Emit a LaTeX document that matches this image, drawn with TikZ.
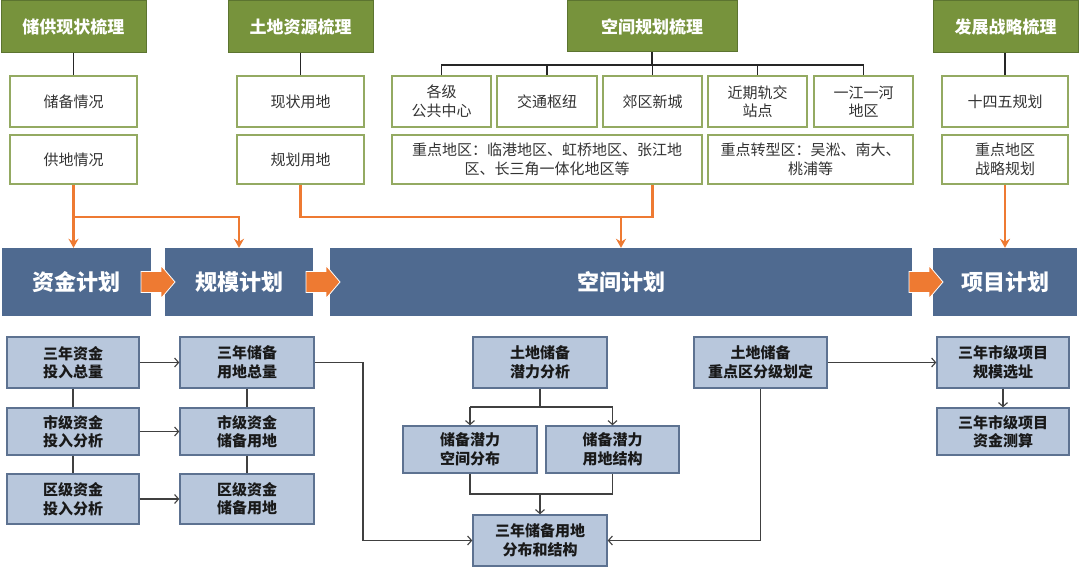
\documentclass[tikz,border=0pt]{standalone}
\usepackage{fontspec}
\setmainfont{Noto Sans CJK SC}
\usetikzlibrary{arrows.meta,calc}
\definecolor{hdrgreen}{HTML}{77933C}
\definecolor{hdrborder}{HTML}{5C7430}
\definecolor{gline}{HTML}{94AA62}
\definecolor{gtext}{HTML}{333333}
\definecolor{barblue}{HTML}{4F6A90}
\definecolor{lbfill}{HTML}{B8C7DC}
\definecolor{lbline}{HTML}{5D7291}
\definecolor{orng}{HTML}{EE7A32}
\definecolor{connc}{HTML}{404040}
\tikzset{
 sz/.style 2 args={minimum width=#1pt, minimum height=#2pt},
 hdr/.style={draw=hdrborder, line width=1pt, fill=hdrgreen, text=white, font=\fontsize{17}{20}\selectfont\bfseries, inner sep=0pt},
 gbox/.style={draw=gline, line width=1.4pt, fill=white, text=gtext, font=\fontsize{15}{18.5}\selectfont, align=center, inner sep=0pt},
 bar/.style={fill=barblue, text=white, font=\fontsize{22}{24}\selectfont\bfseries, inner sep=0pt},
 lbox/.style={draw=lbline, line width=1.4pt, fill=lbfill, text=black!90, font=\fontsize{15}{18.5}\selectfont\bfseries, align=center, inner sep=0pt},
 blk/.style={draw=black!85, line width=1.2pt},
 oline/.style={draw=orng, line width=2.5pt},
 oarr/.style={oline, -{Stealth[length=9pt,width=10pt]}},
 conn/.style={draw=connc, line width=1.1pt},
 carr/.style={conn, -{Straight Barb[length=4pt,width=9pt]}},
 blockarr/.style={fill=orng, draw=white, line width=0.8pt},
}
\newcommand\orangearrow[1]{\path[blockarr] (#1,271.5) -- (#1+20,271.5) -- (#1+20,265.5) -- (#1+34,282) -- (#1+20,298.5) -- (#1+20,292.5) -- (#1,292.5) -- cycle;}
\begin{document}
\begin{tikzpicture}[x=1pt,y=-1pt]
\useasboundingbox[fill=white] (0,0) rectangle (1080,569);
% headers
\node[hdr, sz={145}{52}] (h1) at (73.5,27) {储供现状梳理};
\node[hdr, sz={145}{52}] (h2) at (300.5,27) {土地资源梳理};
\node[hdr, sz={170}{51}] (h3) at (652,26.5) {空间规划梳理};
\node[hdr, sz={145}{52}] (h4) at (1005.5,27) {发展战略梳理};
% green boxes
\node[gbox, sz={127}{51}] (b1) at (73.5,101.5) {储备情况};
\node[gbox, sz={127}{49}] (b2) at (73.5,159.5) {供地情况};
\node[gbox, sz={127}{51}] (b3) at (300.5,101.5) {现状用地};
\node[gbox, sz={127}{49}] (b4) at (300.5,159.5) {规划用地};
\node[gbox, sz={99}{51}] (s1) at (441.5,101.5) {各级\\公共中心};
\node[gbox, sz={100}{51}] (s2) at (547,101.5) {交通枢纽};
\node[gbox, sz={99}{51}] (s3) at (652.5,101.5) {郊区新城};
\node[gbox, sz={99}{51}] (s4) at (757.5,101.5) {近期轨交\\站点};
\node[gbox, sz={99}{51}] (s5) at (863.5,101.5) {一江一河\\地区};
\node[gbox, sz={310}{49}] (s6) at (547,159.5) {重点地区：临港地区、虹桥地区、张江地\\区、长三角一体化地区等};
\node[gbox, sz={205}{49}] (s7) at (810.5,159.5) {重点转型区：吴淞、南大、\\桃浦等};
\node[gbox, sz={126}{51}] (d1) at (1005,101.5) {十四五规划};
\node[gbox, sz={126}{49}] (d2) at (1005,159.5) {重点地区\\战略规划};
% top black connectors
\coordinate (sy) at (0,65);
\draw[blk] (h1.south) -- (b1.north);
\draw[blk] (h2.south) -- (b3.north);
\draw[blk] (d1.north |- h4.south) -- (d1.north);
\draw[blk] (h3.south) -- (h3.south |- sy);
\draw[blk] (s1.north) -- (s1.north |- sy) -- (s5.north |- sy) -- (s5.north);
\draw[blk] (s2.north |- sy) -- (s2.north);
\draw[blk] (s3.north |- sy) -- (s3.north);
\draw[blk] (s4.north |- sy) -- (s4.north);
% bars
\node[bar, sz={149}{68}] (p1) at (76.5,282) {资金计划};
\node[bar, sz={148}{68}] (p2) at (239,282) {规模计划};
\node[bar, sz={582}{68}] (p3) at (621,282) {空间计划};
\node[bar, sz={144}{68}] (p4) at (1005,282) {项目计划};
\orangearrow{141}
\orangearrow{306}
\orangearrow{909}
% orange connectors
\coordinate (oy) at (0,217);
\draw[oarr] (b2.south) -- (b2.south |- p1.north);
\draw[oarr] (b2.south |- oy) -| (p2.north);
\draw[oline] (b4.south) -- (b4.south |- oy) -- (s3.south |- oy) -- (s3.south |- s6.south);
\draw[oarr] (p3.north |- oy) -- (p3.north);
\draw[oarr] (d2.south) -- (d2.south |- p4.north);
% bottom boxes
\node[lbox, sz={132}{51}] (f1) at (73,362.5) {三年资金\\投入总量};
\node[lbox, sz={132}{47}] (f2) at (73,431.5) {市级资金\\投入分析};
\node[lbox, sz={132}{50}] (f3) at (73,499) {区级资金\\投入分析};
\node[lbox, sz={134}{51}] (g1) at (247,362.5) {三年储备\\用地总量};
\node[lbox, sz={134}{47}] (g2) at (247,431.5) {市级资金\\储备用地};
\node[lbox, sz={134}{50}] (g3) at (247,499) {区级资金\\储备用地};
\node[lbox, sz={134}{51}] (k1) at (540,362.5) {土地储备\\潜力分析};
\node[lbox, sz={134}{47}] (k2) at (470,449.5) {储备潜力\\空间分布};
\node[lbox, sz={133}{47}] (k3) at (612.5,449.5) {储备潜力\\用地结构};
\node[lbox, sz={134}{51}] (k4) at (540,540.5) {三年储备用地\\分布和结构};
\node[lbox, sz={133}{51}] (m1) at (760.5,362.5) {土地储备\\重点区分级划定};
\node[lbox, sz={132}{51}] (n1) at (1003,362.5) {三年市级项目\\规模选址};
\node[lbox, sz={132}{47}] (n2) at (1003,431.5) {三年市级项目\\资金测算};
% bottom connectors
\draw[conn] (f1.south) -- (f2.north);
\draw[conn] (f2.south) -- (f3.north);
\draw[conn] (g1.south) -- (g2.north);
\draw[conn] (g2.south) -- (g3.north);
\draw[carr] (f1.east) -- (g1.west);
\draw[carr] (f2.east) -- (g2.west);
\draw[carr] (f3.east) -- (g3.west);
\coordinate (gx) at (363,0);
\draw[carr] (g1.east) -- (g1.east -| gx) -- (gx |- k4.west) -- (k4.west);
\coordinate (ky) at (0,407);
\draw[conn] (k1.south) -- (k1.south |- ky);
\draw[conn] (k2.north |- ky) -- (k3.north |- ky);
\draw[carr] (k2.north |- ky) -- (k2.north);
\draw[carr] (k3.north |- ky) -- (k3.north);
\coordinate (ky2) at (0,494);
\draw[conn] (k2.south) -- (k2.south |- ky2) -- (k3.south |- ky2) -- (k3.south);
\draw[carr] (k4.north |- ky2) -- (k4.north);
\draw[carr] (m1.east) -- (n1.west);
\draw[carr] (n1.south) -- (n2.north);
\draw[carr] (m1.south) -- (m1.south |- k4.east) -- (k4.east);
\end{tikzpicture}
\end{document}
